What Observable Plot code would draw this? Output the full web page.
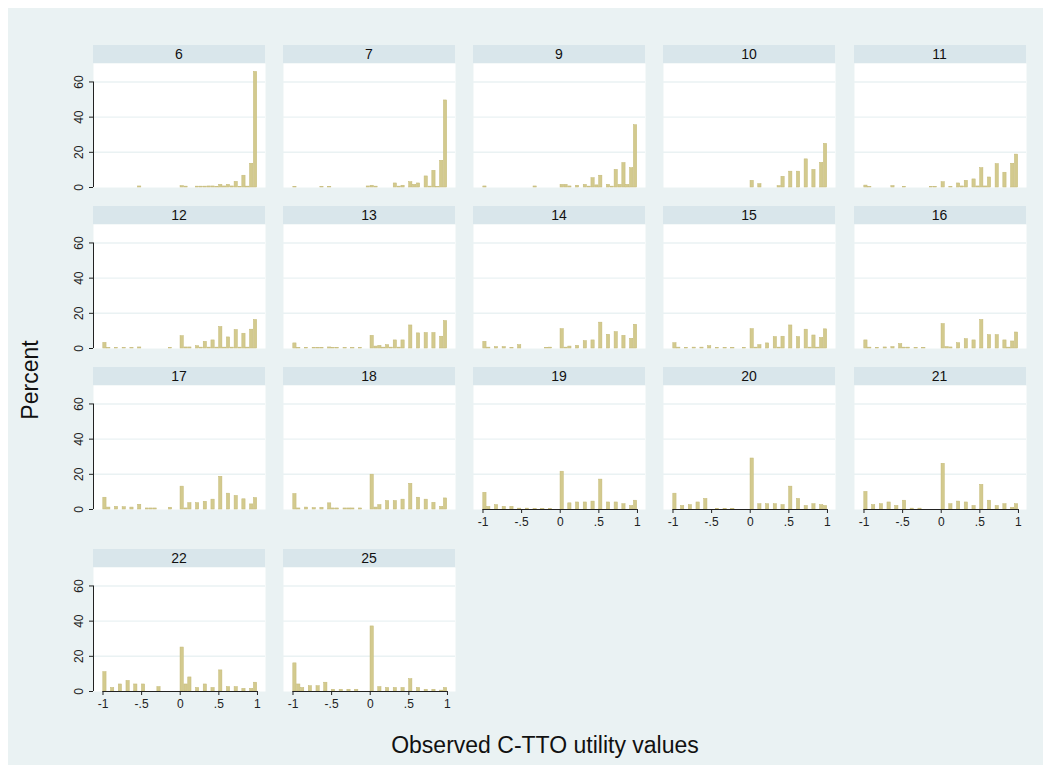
<!DOCTYPE html>
<html>
<head>
<meta charset="utf-8">
<script src="https://cdn.jsdelivr.net/npm/d3@7"></script>
<script src="https://cdn.jsdelivr.net/npm/@observablehq/plot@0.6"></script>
<style>
  html, body { margin: 0; padding: 0; background: #ffffff; }
  body { font-family: "Liberation Sans", Arial, sans-serif; }
  #chart { position: relative; width: 1051px; height: 771px; overflow: hidden; }
  #bg { position: absolute; left: 8px; top: 8px; width: 1035px; height: 757px; background: #eaf2f3; }
  .strip { position: absolute; height: 18px; background: #d9e6eb; color: #111; font-size: 14px; text-align: center; line-height: 19px; }
  svg.panel { position: absolute; overflow: visible; }
  .title { position: absolute; font-size: 23px; color: #111; white-space: nowrap; }
</style>
</head>
<body>
<div id="chart"><div id="bg"></div></div>
<script>
// ---- data (percent per bin, 40 bins of width .05 from -1 to 1) ----
const states = [6, 7, 9, 10, 11, 12, 13, 14, 15, 16, 17, 18, 19, 20, 21, 22, 25];
const binStart = -1;
const binWidth = 0.05;
const xTicks = [-1, -0.5, 0, 0.5, 1];
const xTickLabels = ["-1", "-.5", "0", ".5", "1"];
const yTicks = [0, 20, 40, 60];

const s6  = [0,0,0,0,0,0,0,0,0,0.6, 0,0,0,0,0,0,0,0,0,0, 0.8,0.5,0,0,0.5,0.5,0.5,0.6,0.6,0.4, 1.5,0.6,1.5,0.6,3.2,0.4,6.7,0.5,13.5,65.7];
const s7  = [0.4,0,0,0,0,0,0,0.4,0,0.4, 0,0,0,0,0,0,0,0,0,0.6, 1,0.5,0,0,0,0,2.3,0.5,1,0, 3,1.5,2.3,0,6.3,0.5,9.5,0.3,15.2,49.5];
const s9  = [0.6,0,0,0,0,0,0,0,0,0, 0,0,0,0.6,0,0,0,0,0,0, 1.5,1.5,0.6,0,1,0,1.5,0.5,5.3,1.2, 6.7,0,1.5,0.5,10,1.5,13.9,1.5,11,35.4];
const s10 = [0,0,0,0,0,0,0,0,0,0, 0,0,0,0,0,0,0,0,0,0, 3.8,0,1.9,0,0,0,0,0.8,6.1,0, 9,0,9,0,16,0,10,0,14,24.8];
const s11 = [1.1,0.3,0,0,0,0,0,0.8,0,0, 0.4,0,0,0,0,0,0,0.4,0.4,0, 3,0,0.4,0,2.3,0.6,3.8,0,4.6,0.6, 11,0.6,5.7,0,13.3,0,8.4,0,13.5,18.7];
const s12 = [3.2,0.3,0,0.3,0,0.3,0,0.3,0,0.6, 0,0,0,0,0,0,0,0.3,0,0, 7,0.6,0.6,0,1.3,0.5,3.8,0.5,4.6,0.5, 12.2,0.5,6.3,0.5,10.5,0.5,8.4,0.5,10.7,16.2];
const s13 = [2.9,0.4,0,0.4,0,0.4,0.4,0.4,0,0.6, 0.4,0.4,0,0.3,0,0.3,0,0.3,0,0, 7.2,1.1,1.5,0.5,1.9,0.5,4.6,0.5,4.6,0, 13.1,0,8.6,0,8.8,0,8.8,0,6.7,15.6];
const s14 = [3.8,0.5,0,0.8,0,0.8,0,0.4,0,1.9, 0,0,0,0,0,0,0.4,0.5,0,0, 11,0.5,1.1,0,1.5,0,4.2,0,4.6,0, 14.7,0,7.8,0,9.3,0,7.2,0,5.5,13.5];
const s15 = [3,0.5,0,0.4,0,0.5,0,0.5,0,1.3, 0,0.4,0,0.4,0,0.4,0,0,0.4,0, 11,0.5,1.9,0,2.9,0,6.5,0.5,6.7,0, 13.1,0,6.5,0,10.7,0.5,7.4,0.5,6,10.9];
const s16 = [4.6,0.5,0,0.4,0,0.6,0,0.8,0,2.5, 0.5,0.5,0,0.4,0,0.4,0,0,0,0, 13.9,0.8,0.6,0,3,0,5.3,0,4.6,0, 16.2,0,7.6,0,7.6,0,4.6,0.5,4,9.1];
const s17 = [6.7,1.1,0,1.5,0,1.3,0,1.1,0,2.7, 0,0.6,0.6,0.6,0,0,0,1,0,0, 13,0.6,3.6,0,3.6,0,4.4,0,5.6,0, 18.6,0,9,0,7.7,0,5.8,0,2.9,6.5];
const s18 = [8.8,0.6,0,1.1,0,0.8,0,1,0,3.5, 0.6,0.6,0,0.6,0.6,0.6,0,0.6,0,0, 19.8,1.1,2.5,0,4.8,0,4.8,0,5.6,0, 14.6,0,6.7,0,5.6,0,3.8,0,1.5,6.3];
const s19 = [9.5,1.5,0,2.5,0,1.5,0,1.5,0,0.5, 0,0.5,0,0.3,0,0.3,0,0.3,0,0, 21.5,0,3.5,0,4,0,4,0,4.5,0, 17,0,4,0,4,0,3,0,2,5];
const s20 = [9,0,2,0,2.5,0,4,0,6,0, 0,0.4,0,0.4,0,0.4,0,0,0,0, 29,0,3,0,3,0,3,0,2.5,0, 13,0,6,0,2,0,3,0,2.5,2];
const s21 = [10,0,2.5,0,3,0,4,0,2,0, 5,0,0.5,0,0.5,0,0,0,0,0, 26,0,3,0,4.5,0,4,0,2,0, 14,0,5,0,2,0,3,0,1,3];
const s22 = [11,0,2,0,4,0,6,0,4,0, 4,0,0,0,2.5,0,0,0,0,0, 25,4,8,0,2,0,4,0,2,0, 12,0,2.5,0,2.5,0,1.5,0,1.5,5];
const s25 = [16,4,2,0,3,0,3,0,5,0, 1,0,1,0,1,0,1,0,0,0, 37,0,2.5,0,2,0,2,0,2,0, 7,0,2,0,1,0,1,0,0.5,2];

const seriesList = [s6, s7, s9, s10, s11, s12, s13, s14, s15, s16, s17, s18, s19, s20, s21, s22, s25];

// ---- layout ----
const colX = [93, 283, 473, 663, 853.5];
const rowTop = [63, 224, 385, 567];
const panelW = 172, panelH = 124;
const bottomPanels = new Set([19, 20, 21, 22, 25]);
const chart = document.getElementById("chart");

states.forEach((st, k) => {
  const col = k % 5, row = Math.floor(k / 5);
  const vals = seriesList[k];
  const rows = vals.map((v, i) => ({x1: binStart + i * binWidth, x2: binStart + (i + 1) * binWidth, pct: v}))
                   .filter(d => d.pct > 0);
  const left = col === 0;
  const bottom = bottomPanels.has(st);
  const mL = left ? 34 : 0;
  const mB = bottom ? 26 : 0;
  const marks = [
    Plot.frame({fill: "white", stroke: "none"}),
    Plot.ruleY([20, 40, 60], {stroke: "#eaf2f3", strokeWidth: 1.4}),
    Plot.rectY(rows, {x1: "x1", x2: "x2", y: "pct", fill: "#d3ca8e", stroke: "#c4b977", strokeWidth: 0.5, insetLeft: 0.3, insetRight: 0.3})
  ];
  if (left) {
    marks.push(Plot.ruleX([-1.123], {y1: 0, y2: 60, stroke: "#222", strokeWidth: 1}));
    marks.push(Plot.axisY({ticks: yTicks, tickSize: 4, tickPadding: 7, tickRotate: -90, label: null, fontSize: 12, stroke: "#222", color: "#222"}));
  }
  if (bottom) {
    marks.push(Plot.ruleY([0], {x1: -1, x2: 1, stroke: "#222", strokeWidth: 1}));
    marks.push(Plot.axisX({ticks: xTicks, tickFormat: d => xTickLabels[xTicks.indexOf(d)], tickSize: 4, tickPadding: 4, label: null, fontSize: 12, stroke: "#222", color: "#222"}));
  }
  const svg = Plot.plot({
    width: panelW + mL,
    height: panelH + mB,
    marginLeft: mL, marginRight: 0, marginTop: 0, marginBottom: mB,
    style: {background: "transparent", fontFamily: "Liberation Sans, Arial, sans-serif", overflow: "visible"},
    x: {domain: [-1.123, 1.104], axis: null},
    y: {domain: [0, 70.5], axis: null},
    marks
  });
  svg.classList.add("panel");
  svg.style.left = (colX[col] - mL) + "px";
  svg.style.top = rowTop[row] + "px";
  chart.appendChild(svg);

  const strip = document.createElement("div");
  strip.className = "strip";
  strip.style.left = colX[col] + "px";
  strip.style.top = (rowTop[row] - 18) + "px";
  strip.style.width = panelW + "px";
  strip.textContent = String(st);
  chart.appendChild(strip);
});

const yTitle = document.createElement("div");
yTitle.className = "title";
yTitle.textContent = "Percent";
yTitle.style.left = "30px";
yTitle.style.top = "380px";
yTitle.style.transform = "translate(-50%, -50%) rotate(-90deg)";
chart.appendChild(yTitle);

const xTitle = document.createElement("div");
xTitle.className = "title";
xTitle.textContent = "Observed C-TTO utility values";
xTitle.style.left = "545px";
xTitle.style.top = "745px";
xTitle.style.transform = "translate(-50%, -50%)";
chart.appendChild(xTitle);
</script>
</body>
</html>
